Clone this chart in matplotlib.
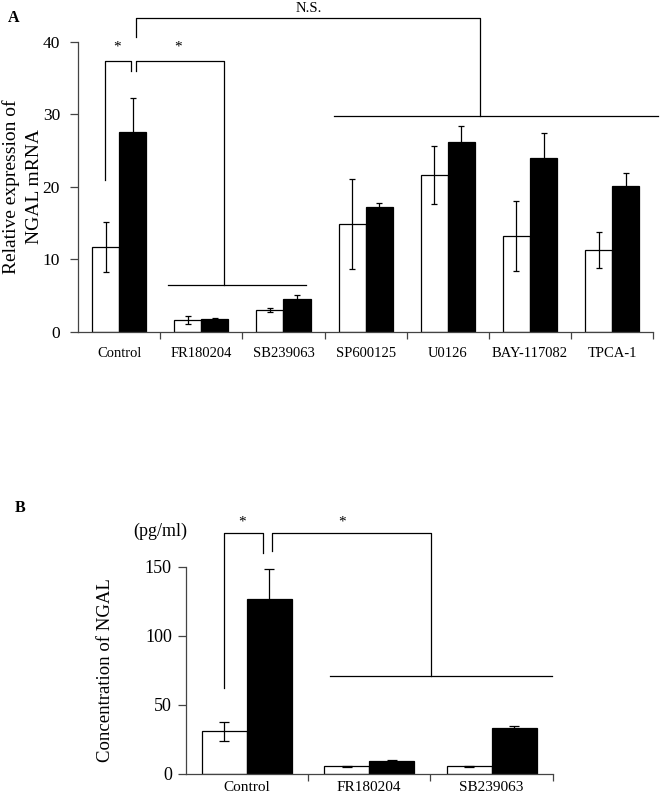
import numpy as np
import matplotlib
matplotlib.use("Agg")
import matplotlib.pyplot as plt

plt.rcParams['font.family'] = ['Liberation Serif', 'DejaVu Serif']

# panel A: relative NGAL mRNA expression
cats_a = ["Control", "FR180204", "SB239063", "SP600125", "U0126", "BAY-117082", "TPCA-1"]
white_a = [11.7, 1.6, 3.0, 14.8, 21.6, 13.2, 11.3]
white_a_err = [3.5, 0.5, 0.3, 6.2, 4.0, 4.8, 2.5]
black_a = [27.6, 1.75, 4.5, 17.2, 26.2, 24.0, 20.05]
black_a_err = [4.7, 0.1, 0.55, 0.6, 2.2, 3.4, 1.9]

# panel B: NGAL concentration (pg/ml)
cats_b = ["Control", "FR180204", "SB239063"]
white_b = [30.7, 5.4, 5.4]
white_b_err = [7.0, 0.5, 0.5]
black_b = [126.8, 9.4, 33.4]
black_b_err = [21.5, 0.8, 1.5]


def draw_bars(ax, cats, w, we, b, be, width, ymax, yticks, tick_fs, tick_pad, cat_fs, cat_pad, cap):
    x = np.arange(len(cats))
    ax.bar(x - width / 2, w, width, color="white", edgecolor="black", linewidth=0.9, zorder=2)
    ax.bar(x + width / 2, b, width, color="black", edgecolor="black", linewidth=0.9, zorder=2)
    ax.errorbar(x - width / 2, w, yerr=we, fmt="none", ecolor="black", elinewidth=0.9,
                capsize=cap, capthick=0.9, zorder=3)
    ax.errorbar(x + width / 2, b, yerr=be, fmt="none", ecolor="black", elinewidth=0.9,
                capsize=cap, capthick=0.9, zorder=3)
    ax.set_xlim(-0.5, len(cats) - 0.5)
    ax.set_ylim(0, ymax)
    ax.set_yticks(yticks)
    # category boundaries get the tick marks, names sit in between
    ax.set_xticks(np.append(x[:-1] + 0.5, len(cats) - 0.5))
    ax.set_xticklabels([])
    ax.set_xticks(x, minor=True)
    ax.set_xticklabels(cats, minor=True, fontsize=cat_fs)
    ax.tick_params(axis="x", which="minor", length=0, pad=cat_pad)
    ax.tick_params(axis="x", which="major", length=5, width=0.9, color="#444444")
    ax.tick_params(axis="y", length=6, width=0.9, color="#444444", labelsize=tick_fs, pad=tick_pad)
    for s in ["top", "right"]:
        ax.spines[s].set_visible(False)
    for s in ["left", "bottom"]:
        ax.spines[s].set_color("#444444")
        ax.spines[s].set_linewidth(0.9)


def line(ax, xs, ys):
    ax.plot(xs, ys, color="black", lw=0.9, clip_on=False, zorder=4)


fig = plt.figure(figsize=(6.6, 7.97), dpi=100)

# ---- panel A
axa = fig.add_axes([0.1182, 0.5838, 0.8717, 0.3639])
draw_bars(axa, cats_a, white_a, white_a_err, black_a, black_a_err, 0.33, 40,
          [0, 10, 20, 30, 40], 12.5, 7, 10.5, 11, 2.5)
axa.set_ylabel("Relative expression of\nNGAL mRNA", fontsize=14, labelpad=0, linespacing=1.4)

line(axa, [-0.17, -0.17, 0.14, 0.14], [20.9, 37.3, 37.3, 36.0])
line(axa, [0.207, 0.207, 1.28, 1.28], [36.0, 37.3, 37.3, 6.44])
line(axa, [0.593, 2.27], [6.44, 6.44])
line(axa, [0.207, 0.207, 4.39, 4.39], [40.65, 43.27, 43.27, 29.8])
line(axa, [2.62, 6.56], [29.8, 29.8])
axa.text(-0.03, 39.3, "*", ha="center", va="center", fontsize=11)
axa.text(0.72, 39.3, "*", ha="center", va="center", fontsize=11)
axa.text(2.31, 44.6, "N.S.", ha="center", va="center", fontsize=10.5)
fig.text(0.012, 0.977, "A", fontsize=11.5, fontweight="bold", ha="left", va="center")

# ---- panel B
axb = fig.add_axes([0.2814, 0.0292, 0.5561, 0.2597])
draw_bars(axb, cats_b, white_b, white_b_err, black_b, black_b_err, 0.368, 150,
          [0, 50, 100, 150], 13, 4, 11, 5.5, 3.5)
axb.set_ylabel("Concentration of NGAL", fontsize=13.5, labelpad=22)

line(axb, [-0.19, -0.19, 0.135, 0.135], [61.9, 174.4, 174.4, 159.7])
line(axb, [0.204, 0.204, 1.506, 1.506], [161.6, 174.4, 174.4, 70.8])
line(axb, [0.68, 2.49], [70.8, 70.8])
axb.text(-0.037, 182.6, "*", ha="center", va="center", fontsize=11)
axb.text(0.776, 182.6, "*", ha="center", va="center", fontsize=11)
axb.text(-0.705, 175.4, "(pg/ml)", ha="center", va="center", fontsize=13)
fig.text(0.022, 0.363, "B", fontsize=11.5, fontweight="bold", ha="left", va="center")

fig.savefig("out.png", dpi=100)
